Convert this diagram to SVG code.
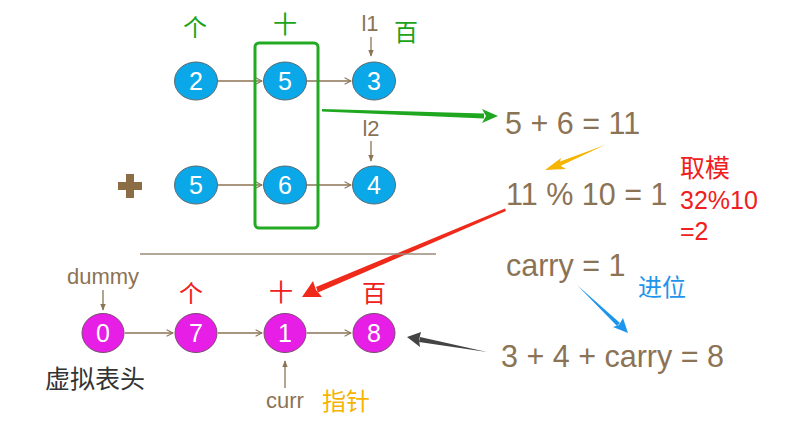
<svg xmlns="http://www.w3.org/2000/svg" width="812" height="423" viewBox="0 0 812 423">
<defs>
<marker id="chev" viewBox="0 0 10 10" refX="9" refY="5" markerWidth="8" markerHeight="8" orient="auto" markerUnits="userSpaceOnUse">
<path d="M1,1 L9,5 L1,9" fill="none" stroke="#8b7355" stroke-width="1.3"/>
</marker>
<marker id="tri" viewBox="0 0 10 10" refX="9" refY="5" markerWidth="7" markerHeight="7" orient="auto" markerUnits="userSpaceOnUse">
<path d="M0,1 L10,5 L0,9 Z" fill="#8b7355"/>
</marker>
</defs>
<style>
.t{font-family:"Liberation Sans",Arial,sans-serif}
.c{font-family:"Noto Sans CJK SC","Liberation Sans",sans-serif}
.blue ellipse{fill:#0aa8e8;stroke:#5a6a70;stroke-width:1}
.mag ellipse{fill:#e61ee6;stroke:#7a4a70;stroke-width:1}
.nt{font-family:"Liberation Sans",Arial,sans-serif;font-size:25px;fill:#fff;text-anchor:middle}
.eq{font-family:"Liberation Sans",Arial,sans-serif;font-size:30.5px;fill:#8b7355}
.lnk{stroke:#8b7355;stroke-width:1.3;fill:none}
.lab{font-family:"Liberation Sans",Arial,sans-serif;font-size:22px;fill:#8b7355;text-anchor:middle}
</style>
<rect width="812" height="423" fill="#fff"/>

<!-- top labels -->
<g id="labels-top" class="c" font-size="24" fill="#1aa31a" text-anchor="middle">
<text x="195" y="36">个</text>
<text x="285" y="33">十</text>
<text x="406" y="41">百</text>
</g>
<text class="lab" x="370" y="31">l1</text>
<text class="lab" x="371" y="136">l2</text>

<!-- plus -->
<g id="plus" fill="#8b6d45">
<rect x="118" y="182" width="24" height="8"/>
<rect x="126" y="174" width="8" height="24"/>
</g>

<g id="connectors">
<line class="lnk" x1="218" y1="81" x2="262" y2="81" marker-end="url(#chev)"/>
<line class="lnk" x1="307" y1="81" x2="351" y2="81" marker-end="url(#chev)"/>
<line class="lnk" x1="218" y1="185" x2="262" y2="185" marker-end="url(#chev)"/>
<line class="lnk" x1="307" y1="185" x2="351" y2="185" marker-end="url(#chev)"/>
<line class="lnk" x1="371" y1="37" x2="371" y2="56" stroke-width="1" marker-end="url(#tri)"/>
<line class="lnk" x1="371" y1="141" x2="371" y2="161" stroke-width="1" marker-end="url(#tri)"/>
<line class="lnk" x1="125" y1="333" x2="173" y2="333" marker-end="url(#chev)"/>
<line class="lnk" x1="218" y1="333" x2="262" y2="333" marker-end="url(#chev)"/>
<line class="lnk" x1="307" y1="333" x2="351" y2="333" marker-end="url(#chev)"/>
<line class="lnk" x1="103" y1="290" x2="103" y2="310" stroke-width="1" marker-end="url(#tri)"/>
<line class="lnk" x1="285" y1="388" x2="285" y2="361" stroke-width="1" marker-end="url(#tri)"/>
<!-- big arrows -->
<path d="M322,109 L484,113.5 L484,118.5 L322,111.5 Z" fill="#1fa81f"/>
<path d="M482,109 L498,116 L482,123 L486,116 Z" fill="#1fa81f"/>
<path d="M605,145 L558,167 L556,163 Z" fill="#f5b400"/>
<path d="M561,158 L545,170 L566,169 L559,165 Z" fill="#f5b400"/>
<path d="M505,208.5 L506,211 L318,292.5 L316,287 Z" fill="#f02a1a"/>
<path d="M313,281 L302,297 L322,297 L316,290 Z" fill="#f02a1a"/>
<path d="M577,285 L617,326 L620,323 Z" fill="#1e95ec"/>
<path d="M613,327 L628,333 L623,318 L619,325 Z" fill="#1e95ec"/>
<path d="M487,352 L420,337 L419,342 Z" fill="#444"/>
<path d="M421,332 L407,337 L420,347 L419,340 Z" fill="#444"/>
<line x1="140" y1="254" x2="436" y2="254" stroke="#9a8a78" stroke-width="1.5"/>
</g>

<rect id="focus" x="255" y="43" width="63" height="185" rx="4" fill="none" stroke="#22aa22" stroke-width="3"/>

<g id="n2" class="blue"><ellipse cx="196" cy="81" rx="21.5" ry="19"/><text class="nt" x="196" y="90">2</text></g>
<g id="n5a" class="blue"><ellipse cx="285" cy="81" rx="21.5" ry="19"/><text class="nt" x="285" y="90">5</text></g>
<g id="n3" class="blue"><ellipse cx="374" cy="81" rx="21.5" ry="19"/><text class="nt" x="374" y="90">3</text></g>
<g id="n5b" class="blue"><ellipse cx="196" cy="185" rx="21.5" ry="19"/><text class="nt" x="196" y="194">5</text></g>
<g id="n6" class="blue"><ellipse cx="285" cy="185" rx="21.5" ry="19"/><text class="nt" x="285" y="194">6</text></g>
<g id="n4" class="blue"><ellipse cx="374" cy="185" rx="21.5" ry="19"/><text class="nt" x="374" y="194">4</text></g>

<g id="m0" class="mag"><ellipse cx="103" cy="333" rx="21" ry="19.5"/><text class="nt" x="103" y="342">0</text></g>
<g id="m7" class="mag"><ellipse cx="196" cy="333" rx="21" ry="19.5"/><text class="nt" x="196" y="342">7</text></g>
<g id="m1" class="mag"><ellipse cx="285" cy="333" rx="21" ry="19.5"/><text class="nt" x="285" y="342">1</text></g>
<g id="m8" class="mag"><ellipse cx="374" cy="333" rx="21" ry="19.5"/><text class="nt" x="374" y="342">8</text></g>

<g id="labels-bottom">
<text class="lab" x="103" y="284">dummy</text>
<g class="c" font-size="24" fill="#f02020" text-anchor="middle">
<text x="191" y="302">个</text>
<text x="281" y="301">十</text>
<text x="374" y="302">百</text>
</g>
<text class="lab" x="285" y="408">curr</text>
<text class="c" x="322" y="410" font-size="24" fill="#f5b400">指针</text>
<text class="c" x="45" y="388" font-size="25" fill="#333">虚拟表头</text>
</g>

<g id="equations">
<text class="eq" x="505" y="134">5 + 6 = 11</text>
<text class="eq" x="506" y="205">11 % 10 = 1</text>
<text class="eq" x="506" y="276">carry = 1</text>
<text class="eq" x="501" y="367">3 + 4 + carry = 8</text>
</g>
<g id="notes" fill="#f02020" font-size="25">
<text class="c" x="680" y="177">取模</text>
<text class="t" x="680" y="209">32%10</text>
<text class="t" x="680" y="240">=2</text>
</g>
<text class="c" x="638" y="296" font-size="24" fill="#1e95ec">进位</text>
</svg>
